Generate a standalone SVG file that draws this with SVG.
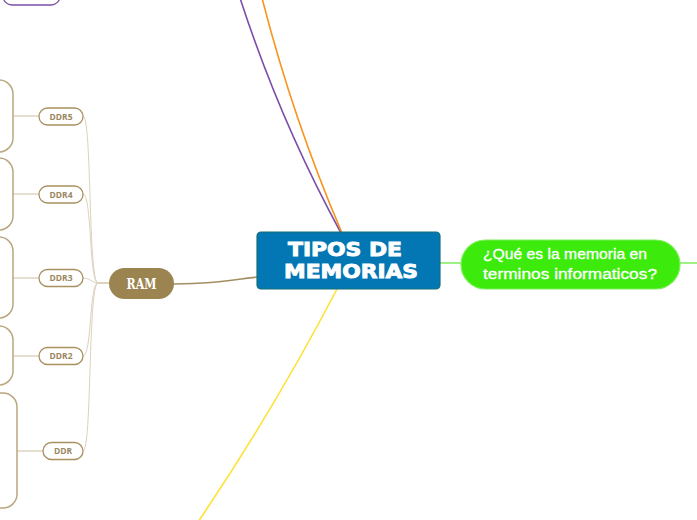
<svg xmlns="http://www.w3.org/2000/svg" width="697" height="520" viewBox="0 0 697 520">
<style>
.sub{fill:#fff;stroke:#a8915f;stroke-width:1.3}
.subt{font-family:"Open Sans","DejaVu Sans",sans-serif;font-weight:bold;font-size:8.5px;fill:#9a875f;text-anchor:middle}
.box{fill:#fff;stroke:#bba77f;stroke-width:1.5}
.thin{fill:none;stroke:#dcd2bd;stroke-width:1}
.leaf{fill:none;stroke:#d6cab0;stroke-width:1.2}
</style>
<rect width="697" height="520" fill="#fff"/>
<g id="connectors">
  <path d="M240,-2 Q280,121 341,233" fill="none" stroke="#7b4fa8" stroke-width="1.6"/>
  <path d="M262,-2 Q293,119 342,233" fill="none" stroke="#f7941d" stroke-width="1.6"/>
  <path d="M337,289 Q275,408 198,522" fill="none" stroke="#ffe135" stroke-width="1.6"/>
  <path d="M440,263 L461,263" fill="none" stroke="#88ee66" stroke-width="1.6"/>
  <path d="M680,263 L697,263" fill="none" stroke="#88ee66" stroke-width="1.6"/>
  <path d="M174,284 C210,284 225,281 257,277" fill="none" stroke="#a38e63" stroke-width="1.5"/>
  <path d="M98,283 L109,283" fill="none" stroke="#c9b893" stroke-width="1.2"/>
  <path class="thin" d="M83,116 C92,116 88,283 98,283"/>
  <path class="thin" d="M83,194 C92,194 89,283 98,283"/>
  <path class="thin" d="M83,278 C90,278 92,283 98,283"/>
  <path class="thin" d="M83,356 C92,356 89,283 98,283"/>
  <path class="thin" d="M83,451 C92,451 88,283 98,283"/>
  <path class="leaf" d="M39,116 L13,116"/>
  <path class="leaf" d="M39,194 L13,194"/>
  <path class="leaf" d="M39,278 L13,278"/>
  <path class="leaf" d="M39,356 L13,356"/>
  <path class="leaf" d="M43,451 L17,451"/>
</g>
<g id="top-purple"><rect x="3" y="-30" width="57" height="35" rx="9" fill="#fff" stroke="#7b4fa8" stroke-width="1.3"/></g>
<g id="box5"><rect class="box" x="-100" y="80" width="113" height="72" rx="14"/></g>
<g id="box4"><rect class="box" x="-100" y="158" width="113" height="72" rx="14"/></g>
<g id="box3"><rect class="box" x="-100" y="237" width="113" height="81" rx="14"/></g>
<g id="box2"><rect class="box" x="-100" y="326" width="113" height="59" rx="14"/></g>
<g id="box1"><rect class="box" x="-100" y="393" width="117" height="115" rx="14"/></g>
<g id="ddr5"><rect class="sub" x="39" y="108" width="44" height="17" rx="8.5"/><text class="subt" x="61" y="119.5">DDR5</text></g>
<g id="ddr4"><rect class="sub" x="39" y="186" width="44" height="17" rx="8.5"/><text class="subt" x="61" y="197.5">DDR4</text></g>
<g id="ddr3"><rect class="sub" x="39" y="269.5" width="44" height="17" rx="8.5"/><text class="subt" x="61" y="281">DDR3</text></g>
<g id="ddr2"><rect class="sub" x="39" y="347.5" width="44" height="17" rx="8.5"/><text class="subt" x="61" y="359">DDR2</text></g>
<g id="ddr"><rect class="sub" x="43" y="442.5" width="40" height="17" rx="8.5"/><text class="subt" x="63" y="454">DDR</text></g>
<g id="ram"><rect x="109" y="268" width="65" height="31" rx="15.5" fill="#9c8451"/><text x="141.5" y="289" font-family="'DejaVu Serif','Liberation Serif',serif" font-weight="bold" font-size="14" fill="#fff" text-anchor="middle" textLength="30" lengthAdjust="spacingAndGlyphs">RAM</text></g>
<g id="central"><rect x="257" y="232" width="183" height="57" rx="4" fill="#0277b4" stroke="#17707a" stroke-width="1.2"/>
<text font-family="'DejaVu Sans',sans-serif" font-weight="bold" font-size="19" fill="#fff" stroke="#fff" stroke-width="0.9" text-anchor="middle"><tspan x="345" y="256" textLength="114" lengthAdjust="spacingAndGlyphs">TIPOS DE</tspan><tspan x="351" y="278" textLength="134" lengthAdjust="spacingAndGlyphs">MEMORIAS</tspan></text></g>
<g id="green"><rect x="461" y="240" width="219" height="49" rx="24.5" fill="#3ceb0c" stroke="#7cf058" stroke-width="1.2"/>
<text font-family="'Liberation Sans',sans-serif" font-size="14" fill="#fff" stroke="#fff" stroke-width="0.3"><tspan x="483" y="259" textLength="164" lengthAdjust="spacingAndGlyphs">¿Qué es la memoria en</tspan><tspan x="483" y="279" textLength="174" lengthAdjust="spacingAndGlyphs">terminos informaticos?</tspan></text></g>
</svg>
